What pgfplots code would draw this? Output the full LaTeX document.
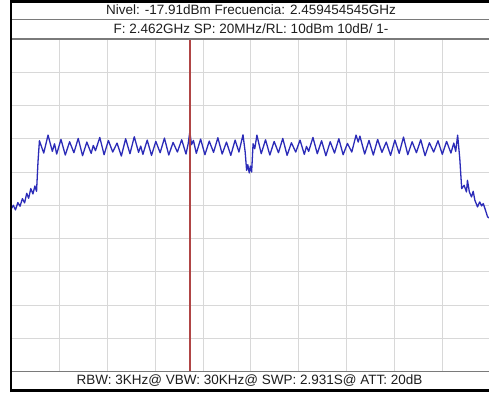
\documentclass[border=0pt]{standalone}
\usepackage{pgfplots}
\pgfplotsset{compat=1.18}
\usepackage{fontspec}
\setmainfont{Liberation Sans}
\definecolor{trace}{HTML}{2B2BB8}
\definecolor{marker}{HTML}{B04545}
\definecolor{gridc}{HTML}{D8D8D8}
\definecolor{sep}{HTML}{7A7A7A}
\definecolor{txt}{HTML}{1E1E1E}
\begin{document}
\begin{tikzpicture}[x=1pt,y=1pt]
\useasboundingbox (0,0) rectangle (489,392);
\fill[white] (0,0) rectangle (489,392);
\begin{axis}[at={(11.4pt,20.5pt)}, anchor=south west, scale only axis,
  width=477.6pt, height=332.5pt,
  xmin=2452, xmax=2471.94, ymin=-90, ymax=10,
  xtick={2452,2454,...,2470}, ytick={-90,-80,...,10},
  xticklabels={}, yticklabels={}, major tick length=0pt,
  grid=major, grid style={draw=gridc, line width=0.9pt},
  axis line style={draw=none}, clip=true]
\addplot[trace, line width=1.3pt, no marks, line join=round] coordinates {
(2452.00,-41.0) (2452.08,-40.0) (2452.17,-41.4) (2452.27,-39.2) (2452.36,-40.3)
(2452.46,-38.0) (2452.55,-39.3) (2452.64,-36.4) (2452.72,-37.9) (2452.81,-35.0)
(2452.90,-36.6) (2452.98,-34.2) (2453.05,-35.8) (2453.11,-27.0) (2453.17,-20.6)
(2453.35,-24.3) (2453.53,-18.9) (2453.71,-23.8) (2453.80,-21.5) (2453.89,-24.6)
(2454.07,-20.2) (2454.25,-24.9) (2454.43,-20.9) (2454.61,-24.2) (2454.79,-19.9)
(2454.97,-25.1) (2455.15,-21.0) (2455.33,-24.4) (2455.42,-22.0) (2455.51,-23.6)
(2455.69,-19.6) (2455.87,-24.8) (2456.05,-20.5) (2456.23,-24.0) (2456.41,-21.3)
(2456.59,-25.2) (2456.77,-20.0) (2456.95,-24.5) (2457.13,-19.4) (2457.31,-24.1)
(2457.40,-22.2) (2457.49,-24.7) (2457.67,-20.4) (2457.85,-25.0) (2458.03,-20.8)
(2458.21,-24.2) (2458.39,-19.8) (2458.57,-24.9) (2458.75,-21.1) (2458.93,-24.0)
(2459.11,-20.3) (2459.29,-24.6) (2459.38,-21.5) (2459.45,-17.9) (2459.52,-21.8)
(2459.60,-20.5) (2459.72,-24.4) (2459.90,-20.1) (2460.08,-24.8) (2460.26,-20.7)
(2460.44,-24.1) (2460.62,-19.7) (2460.80,-24.6) (2460.98,-21.0) (2461.16,-25.0)
(2461.34,-20.4) (2461.50,-24.0) (2461.67,-18.8) (2461.76,-24.0) (2461.82,-29.5)
(2461.87,-27.8) (2461.93,-30.3) (2461.98,-28.2) (2462.03,-30.0) (2462.09,-21.5)
(2462.16,-23.0) (2462.25,-18.9) (2462.43,-24.5) (2462.61,-20.3) (2462.79,-24.9)
(2462.97,-20.8) (2463.15,-24.2) (2463.33,-19.9) (2463.51,-25.0) (2463.69,-21.2)
(2463.87,-24.0) (2464.05,-20.4) (2464.23,-24.7) (2464.32,-22.3) (2464.41,-23.8)
(2464.59,-19.6) (2464.77,-24.5) (2464.95,-20.6) (2465.13,-25.1) (2465.31,-20.9)
(2465.49,-24.3) (2465.67,-20.0) (2465.85,-24.8) (2466.03,-21.4) (2466.21,-24.0)
(2466.39,-18.9) (2466.48,-21.0) (2466.55,-19.2) (2466.75,-24.6) (2466.93,-20.5)
(2467.11,-24.9) (2467.29,-20.2) (2467.47,-24.1) (2467.65,-21.0) (2467.83,-25.0)
(2468.01,-20.4) (2468.19,-24.4) (2468.37,-19.5) (2468.55,-24.8) (2468.73,-20.9)
(2468.91,-24.2) (2469.09,-20.3) (2469.27,-25.1) (2469.45,-21.2) (2469.63,-24.0)
(2469.81,-20.6) (2469.99,-24.7) (2470.17,-20.8) (2470.35,-24.3) (2470.47,-21.3)
(2470.55,-23.8) (2470.63,-18.9) (2470.72,-26.0) (2470.80,-35.0) (2470.90,-34.0)
(2471.00,-36.0) (2471.04,-32.5) (2471.12,-36.0) (2471.21,-37.5) (2471.28,-35.8)
(2471.35,-38.5) (2471.46,-40.5) (2471.55,-39.0) (2471.63,-40.2) (2471.70,-39.5)
(2471.78,-41.2) (2471.88,-43.5) (2471.94,-43.8)
};
\addplot[marker, line width=1.4pt, no marks] coordinates {(2459.4545,-90) (2459.4545,10)};
\end{axis}
% separators
\draw[sep, line width=1.4pt] (11,353) -- (489,353);
\draw[sep, line width=1.4pt] (11,372.3) -- (489,372.3);
\draw[sep, line width=1.4pt] (11,20.7) -- (489,20.7);
% black frame
\draw[black, line width=2.6pt] (10,390.7) -- (489,390.7);
\draw[black, line width=3.2pt] (10,1.6) -- (489,1.6);
\draw[black, line width=2.4pt] (11.2,0) -- (11.2,392);
% texts
\node[txt, font=\fontsize{13.5}{15}\selectfont, inner sep=0pt] at (251,382) {Nivel: -17.91dBm Frecuencia: 2.459454545GHz};
\node[txt, font=\fontsize{13.5}{15}\selectfont, inner sep=0pt] at (251,363) {F: 2.462GHz SP: 20MHz/RL: 10dBm 10dB/ 1-};
\node[txt, font=\fontsize{13.5}{15}\selectfont, inner sep=0pt] at (249.5,11.5) {RBW: 3KHz@ VBW: 30KHz@ SWP: 2.931S@ ATT: 20dB};
\end{tikzpicture}
\end{document}
